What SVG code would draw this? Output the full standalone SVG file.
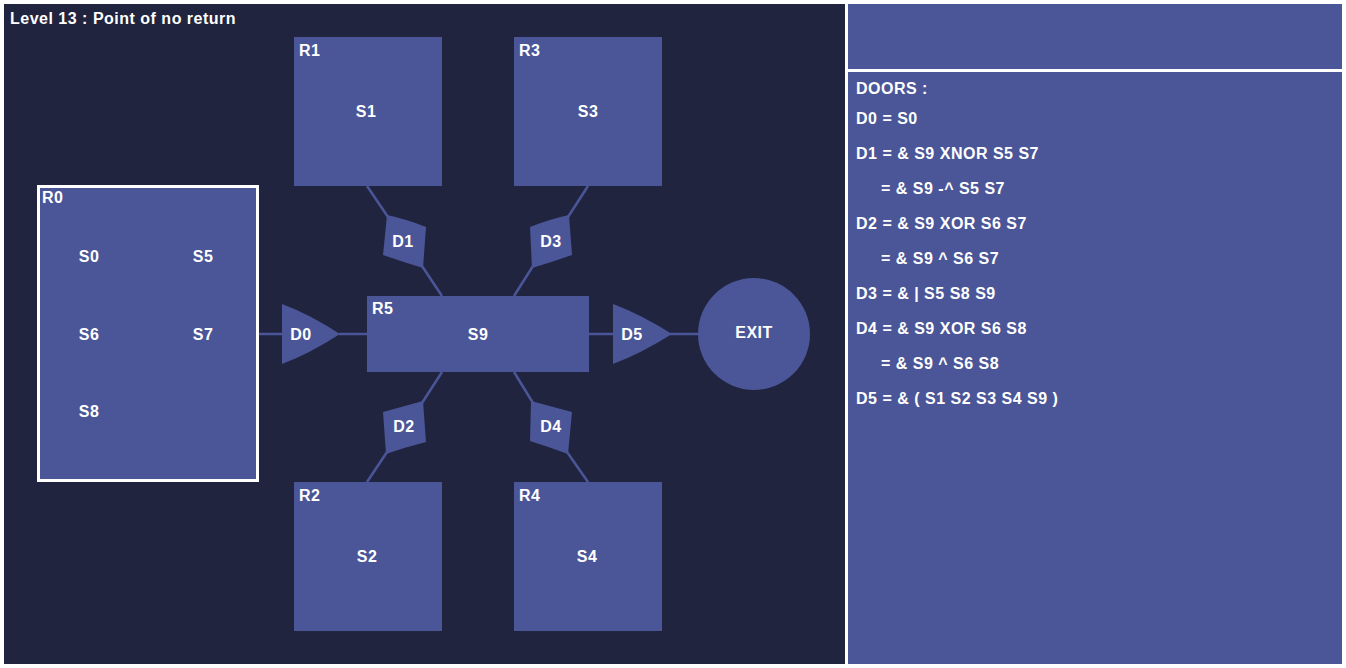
<svg xmlns="http://www.w3.org/2000/svg" width="1346" height="668" viewBox="0 0 1346 668">
<style>
text{font-family:"Liberation Sans",Arial,sans-serif;font-weight:bold;font-size:16px;letter-spacing:0.5px;fill:#ffffff}
.c{text-anchor:middle}
.room{fill:#4a5698}
.door{fill:#4a5698}
.wire{stroke:#4a5698;stroke-width:2.5;fill:none}
</style>
<rect x="0" y="0" width="1346" height="668" fill="#ffffff"/>
<rect id="board" x="4" y="4" width="841" height="660" fill="#21243f"/>
<rect id="info-top" x="848" y="4" width="494" height="65" fill="#4a5698"/>
<rect id="info" x="848" y="72" width="494" height="592" fill="#4a5698"/>
<text x="10" y="24">Level 13 : Point of no return</text>
<g id="connectors">
<line class="wire" x1="259" y1="334" x2="283" y2="334"/>
<line class="wire" x1="339" y1="334" x2="368" y2="334"/>
<line class="wire" x1="588" y1="334" x2="614" y2="334"/>
<line class="wire" x1="670" y1="334" x2="699" y2="334"/>
<line class="wire" x1="367" y1="186" x2="388" y2="217"/>
<line class="wire" x1="422" y1="266" x2="442" y2="296"/>
<line class="wire" x1="588" y1="186" x2="568" y2="217"/>
<line class="wire" x1="533" y1="266" x2="514" y2="296"/>
<line class="wire" x1="442" y1="372" x2="422" y2="403"/>
<line class="wire" x1="387" y1="452" x2="367" y2="482"/>
<line class="wire" x1="514" y1="372" x2="533" y2="403"/>
<line class="wire" x1="567" y1="452" x2="588" y2="482"/>
</g>
<g id="R0">
<rect x="38.5" y="186.5" width="219" height="294" fill="#4a5698" stroke="#ffffff" stroke-width="3"/>
<text x="42" y="203">R0</text>
<text class="c" x="89" y="262">S0</text>
<text class="c" x="203" y="262">S5</text>
<text class="c" x="89" y="340">S6</text>
<text class="c" x="203" y="340">S7</text>
<text class="c" x="89" y="417">S8</text>
</g>
<g id="R1">
<rect class="room" x="294" y="37" width="148" height="149"/>
<text x="299" y="56">R1</text>
<text class="c" x="366" y="117">S1</text>
</g>
<g id="R3">
<rect class="room" x="514" y="37" width="148" height="149"/>
<text x="519" y="56">R3</text>
<text class="c" x="588" y="117">S3</text>
</g>
<g id="R2">
<rect class="room" x="294" y="482" width="148" height="149"/>
<text x="299" y="501">R2</text>
<text class="c" x="367" y="562">S2</text>
</g>
<g id="R4">
<rect class="room" x="514" y="482" width="148" height="149"/>
<text x="519" y="501">R4</text>
<text class="c" x="587" y="562">S4</text>
</g>
<g id="R5">
<rect class="room" x="367" y="296" width="222" height="76"/>
<text x="372" y="314">R5</text>
<text class="c" x="478" y="340">S9</text>
</g>
<g id="EXIT">
<circle cx="754" cy="334" r="56" fill="#4a5698"/>
<text class="c" x="754" y="338">EXIT</text>
</g>
<g id="D0">
<path class="door" d="M282,304 Q309,314 340,334 Q309,354 282,364 Z"/>
<text class="c" x="301" y="340">D0</text>
</g>
<g id="D5">
<path class="door" d="M613,304 Q640,314 672,334 Q640,354 613,364 Z"/>
<text class="c" x="632" y="340">D5</text>
</g>
<g id="D1">
<path class="door" d="M387,215 Q406,219 426,227 L423,268 Q403,262 383,255 Z"/>
<text class="c" x="403" y="247">D1</text>
</g>
<g id="D3">
<path class="door" d="M569,215 Q550,219 530,227 L532,268 Q552,262 572,255 Z"/>
<text class="c" x="551" y="247">D3</text>
</g>
<g id="D2">
<path class="door" d="M423,401 L383,412 L386,454 Q406,447 426,442 Z"/>
<text class="c" x="404" y="432">D2</text>
</g>
<g id="D4">
<path class="door" d="M531,401 L572,412 L568,454 Q549,447 530,441 Z"/>
<text class="c" x="551" y="432">D4</text>
</g>
<g id="doors-text">
<text x="856" y="94">DOORS :</text>
<text x="856" y="124">D0 = S0</text>
<text x="856" y="159">D1 = &amp; S9 XNOR S5 S7</text>
<text x="881" y="194">= &amp; S9 -^ S5 S7</text>
<text x="856" y="229">D2 = &amp; S9 XOR S6 S7</text>
<text x="881" y="264">= &amp; S9 ^ S6 S7</text>
<text x="856" y="299">D3 = &amp; | S5 S8 S9</text>
<text x="856" y="334">D4 = &amp; S9 XOR S6 S8</text>
<text x="881" y="369">= &amp; S9 ^ S6 S8</text>
<text x="856" y="404">D5 = &amp; ( S1 S2 S3 S4 S9 )</text>
</g>
</svg>
